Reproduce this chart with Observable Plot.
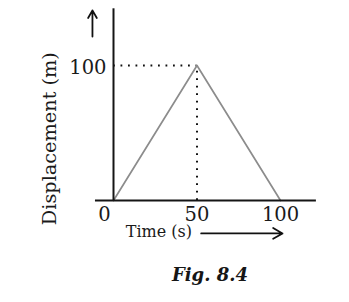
<!DOCTYPE html>
<html>
<head>
<meta charset="utf-8">
<script src="https://cdn.jsdelivr.net/npm/d3@7"></script>
<script src="https://cdn.jsdelivr.net/npm/@observablehq/plot@0.6"></script>
<style>
  html, body { margin: 0; padding: 0; background: #fff; }
  #chart { width: 349px; height: 302px; position: relative; overflow: hidden; }
  #chart svg { display: block; }
  .caption {
    position: absolute; left: 0; width: 420px; top: 264px; text-align: center;
    font: italic bold 18px "DejaVu Serif", serif; color: #161616;
  }
</style>
</head>
<body>
<div id="chart"></div>
<script>
// Displacement–time graph: out 100 m in 50 s, back again by 100 s.
const times = [0, 50, 100];            // s
const displacements = [0, 100, 0];     // m
const xTicks = [0, 50, 100];
const yTicks = [100];
const xLabel = "Time (s)";
const yLabel = "Displacement (m)";
const captionText = "Fig. 8.4";

const path = times.map((t, i) => ({t, d: displacements[i]}));
const peak = path[1];

// Axis extents and arrow guides, in data units.
const xAxisSpan = [{x1: -10.8, x2: 121.5}];
const yAxisSpan = [{y1: 0, y2: 142}];
const arrows = [
  {x1: 52.5, y1: -24.4, x2: 101.2, y2: -24.4},
  {x1: -12.6, y1: 121.5, x2: -12.6, y2: 140.8}
];

const serif = "DejaVu Serif, serif";

const chart = Plot.plot({
  width: 349,
  height: 258,
  margin: 0,
  style: {background: "#fff", fontFamily: serif},
  x: {domain: [0, 100], range: [113, 280], axis: null},
  y: {domain: [0, 100], range: [200, 65], axis: null},
  marks: [
    // dotted guides to the peak
    Plot.ruleY([peak], {y: "d", x1: 0, x2: "t", stroke: "#111", strokeWidth: 2,
      strokeDasharray: "1.8,5.7"}),
    Plot.ruleX([peak], {x: "t", y1: 0, y2: "d", stroke: "#111", strokeWidth: 2,
      strokeDasharray: "1.8,5.7"}),
    // the motion itself
    Plot.line(path, {x: "t", y: "d", stroke: "#8c8c8c", strokeWidth: 1.7}),
    // axes
    Plot.ruleY([0], {x1: xAxisSpan[0].x1, x2: xAxisSpan[0].x2, stroke: "#151515", strokeWidth: 2}),
    Plot.ruleX([0], {y1: yAxisSpan[0].y1, y2: yAxisSpan[0].y2, stroke: "#151515", strokeWidth: 2}),
    // tick labels
    Plot.text(xTicks.filter(v => v === 0), {x: d => d, y: 0, dx: -9, dy: 14, text: d => String(d),
      fontSize: 19.5, fill: "#1a1a1a"}),
    Plot.text(xTicks.filter(v => v !== 0), {x: d => d, y: 0, dy: 14, text: d => String(d),
      fontSize: 19.5, fill: "#1a1a1a"}),
    Plot.text(yTicks, {x: 0, y: d => d, dx: -7, dy: 2, textAnchor: "end", text: d => String(d),
      fontSize: 19.5, fill: "#1a1a1a"}),
    // axis titles
    Plot.text([xLabel], {x: 27.2, y: -23.6, text: d => d, fontSize: 16, fill: "#1a1a1a"}),
    Plot.text([yLabel], {x: -38, y: 45.8, text: d => d, rotate: -90, fontSize: 19.3, fill: "#1a1a1a"}),
    // direction arrows
    Plot.arrow(arrows, {x1: "x1", y1: "y1", x2: "x2", y2: "y2", stroke: "#111",
      strokeWidth: 1.8, headLength: 9})
  ]
});

const root = document.getElementById("chart");
root.appendChild(chart);
const cap = document.createElement("div");
cap.className = "caption";
cap.textContent = captionText;
root.appendChild(cap);
</script>
</body>
</html>
